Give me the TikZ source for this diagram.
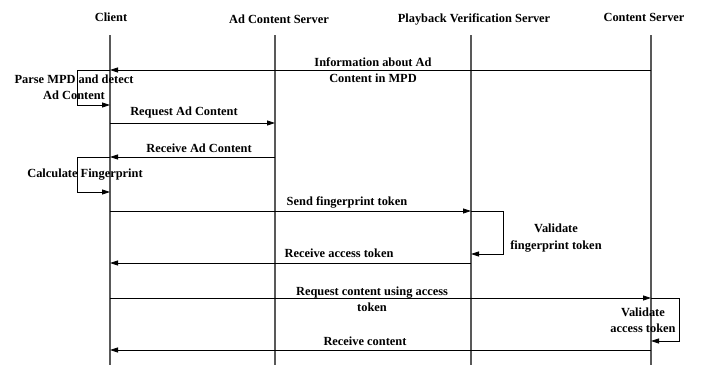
\documentclass[tikz,border=0pt]{standalone}
\usepackage{fontspec}
\setmainfont{Liberation Serif}
\usetikzlibrary{arrows.meta}
\begin{document}
\begin{tikzpicture}[x=1pt,y=-1pt,
  lbl/.style={font=\bfseries\fontsize{12.4}{16.5}\selectfont, inner sep=0pt, align=center},
  head/.style={lbl},
  life/.style={draw=black!65, line width=1.1pt},
  msg/.style={draw=black, line width=0.8pt, -{Triangle[length=8pt,width=5pt]}},
]
\useasboundingbox (0,0) rectangle (701,365);
% headers
\node[head] (hC) at (111,17) {Client};
\node[head] (hA) at (279,19) {Ad Content Server};
\node[head] (hP) at (474,19) {Playback Verification Server};
\node[head] (hS) at (644,17) {Content Server};
% lifeline ends
\coordinate (Ct) at (110,35);  \coordinate (Cb) at (110,365);
\coordinate (At) at (275,35);  \coordinate (Ab) at (275,365);
\coordinate (Pt) at (471,35);  \coordinate (Pb) at (471,365);
\coordinate (St) at (651,35);  \coordinate (Sb) at (651,365);
\draw[life] (Ct) -- (Cb);
\draw[life] (At) -- (Ab);
\draw[life] (Pt) -- (Pb);
\draw[life] (St) -- (Sb);
% message points
\coordinate (s1) at (651,70);  \coordinate (e1) at (110,70);
\coordinate (l1a) at (77,70);  \coordinate (l1b) at (77,105); \coordinate (l1e) at (110,105);
\coordinate (s2) at (110,123); \coordinate (e2) at (275,123);
\coordinate (s3) at (275,157); \coordinate (e3) at (110,157);
\coordinate (l2a) at (77,157); \coordinate (l2b) at (77,192); \coordinate (l2e) at (110,192);
\coordinate (s4) at (110,211); \coordinate (e4) at (471,211);
\coordinate (l3a) at (503,211); \coordinate (l3b) at (503,254); \coordinate (l3e) at (471,254);
\coordinate (s5) at (471,263); \coordinate (e5) at (110,263);
\coordinate (s6) at (110,298); \coordinate (e6) at (651,298);
\coordinate (l4a) at (679,298); \coordinate (l4b) at (679,341); \coordinate (l4e) at (651,341);
\coordinate (s7) at (651,350); \coordinate (e7) at (110,350);
% messages
\draw[msg] (s1) -- (e1);
\draw[msg] (e1) -- (l1a) -- (l1b) -- (l1e);
\draw[msg] (s2) -- (e2);
\draw[msg] (s3) -- (e3);
\draw[msg] (e3) -- (l2a) -- (l2b) -- (l2e);
\draw[msg] (s4) -- (e4);
\draw[msg] (e4) -- (l3a) -- (l3b) -- (l3e);
\draw[msg] (s5) -- (e5);
\draw[msg] (s6) -- (e6);
\draw[msg] (e6) -- (l4a) -- (l4b) -- (l4e);
\draw[msg] (s7) -- (e7);
% labels
\node[lbl] (t1) at (373,70) {Information about Ad\\Content in MPD};
\node[lbl] (t2) at (74,87.5) {Parse MPD and detect\\Ad Content};
\node[lbl] (t3) at (184,113) {Request Ad Content};
\node[lbl] (t4) at (199,148) {Receive Ad Content};
\node[lbl] (t5) at (85,175) {Calculate Fingerprint};
\node[lbl] (t6) at (347,202) {Send fingerprint token};
\node[lbl] (t7) at (556,238) {Validate\\fingerprint token};
\node[lbl] (t8) at (339,253) {Receive access token};
\node[lbl] (t9) at (372,299) {Request content using access\\token};
\node[lbl] (t10) at (643,320) {Validate\\access token};
\node[lbl] (t11) at (365,341) {Receive content};
\end{tikzpicture}
\end{document}
